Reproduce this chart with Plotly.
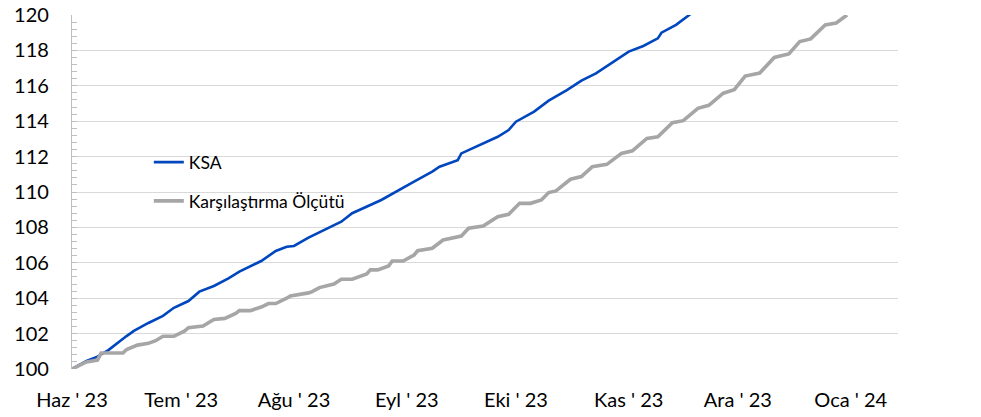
import plotly.graph_objects as go

# ---- data ----
ksa_dates = ["2023-06-01","2023-06-05","2023-06-08","2023-06-11","2023-06-16","2023-06-18",
             "2023-06-22","2023-06-26","2023-06-29","2023-07-03","2023-07-06","2023-07-10",
             "2023-07-14","2023-07-17","2023-07-23","2023-07-27","2023-07-30","2023-08-01",
             "2023-08-05","2023-08-14","2023-08-17","2023-08-25","2023-09-03","2023-09-08",
             "2023-09-10","2023-09-15","2023-09-16","2023-09-21","2023-09-26","2023-09-29",
             "2023-10-01","2023-10-06","2023-10-10","2023-10-15","2023-10-19","2023-10-23",
             "2023-10-28","2023-11-01","2023-11-05","2023-11-09","2023-11-10","2023-11-14",
             "2023-11-18"]
ksa_values = [100.0,100.45,100.7,101.07,101.86,102.15,
              102.6,103.0,103.46,103.84,104.37,104.69,
              105.12,105.5,106.1,106.67,106.91,106.95,
              107.42,108.32,108.8,109.55,110.58,111.15,
              111.43,111.8,112.18,112.66,113.12,113.5,
              113.97,114.54,115.16,115.76,116.29,116.7,
              117.36,117.93,118.25,118.68,119.0,119.44,
              120.06]

bench_dates = ["2023-06-01","2023-06-05","2023-06-08","2023-06-09","2023-06-15","2023-06-16",
               "2023-06-19","2023-06-22","2023-06-24","2023-06-26","2023-06-29","2023-07-02",
               "2023-07-03","2023-07-07","2023-07-10","2023-07-13","2023-07-16","2023-07-17",
               "2023-07-20","2023-07-23","2023-07-25","2023-07-27","2023-07-30","2023-07-31",
               "2023-08-05","2023-08-06","2023-08-08","2023-08-12","2023-08-14","2023-08-17",
               "2023-08-21","2023-08-22","2023-08-24","2023-08-27","2023-08-28","2023-08-31",
               "2023-09-03","2023-09-04","2023-09-08","2023-09-11","2023-09-16","2023-09-18",
               "2023-09-22","2023-09-26","2023-09-29","2023-10-02","2023-10-05","2023-10-08",
               "2023-10-10","2023-10-12","2023-10-16","2023-10-19","2023-10-22","2023-10-26",
               "2023-10-30","2023-11-02","2023-11-06","2023-11-09","2023-11-13","2023-11-16",
               "2023-11-20","2023-11-23","2023-11-27","2023-11-30","2023-12-03","2023-12-07",
               "2023-12-11","2023-12-15","2023-12-18","2023-12-21","2023-12-25","2023-12-28",
               "2023-12-31"]
bench_values = [100.0,100.4,100.5,100.9,100.9,101.1,
                101.35,101.45,101.6,101.85,101.85,102.15,
                102.33,102.43,102.8,102.86,103.14,103.3,
                103.3,103.5,103.7,103.7,104.0,104.12,
                104.3,104.37,104.6,104.8,105.07,105.07,
                105.37,105.6,105.6,105.82,106.1,106.1,
                106.44,106.68,106.82,107.29,107.51,107.95,
                108.08,108.6,108.74,109.36,109.36,109.55,
                109.97,110.06,110.72,110.87,111.43,111.56,
                112.18,112.33,113.03,113.12,113.92,114.03,
                114.73,114.9,115.58,115.78,116.55,116.72,
                117.6,117.8,118.5,118.65,119.44,119.55,
                120.0]

month_ticks = ["2023-06-01","2023-07-01","2023-08-01","2023-09-01","2023-10-01",
               "2023-11-01","2023-12-01","2024-01-01"]
month_labels = ["Haz ' 23","Tem ' 23","Ağu ' 23","Eyl ' 23","Eki ' 23",
                "Kas ' 23","Ara ' 23","Oca ' 24"]
y_ticks = [100,102,104,106,108,110,112,114,116,118,120]

FONT = "Lato"

fig = go.Figure()
fig.add_trace(go.Scatter(x=ksa_dates, y=ksa_values, mode="lines", name="KSA",
                         legendgroup="a",
                         line=dict(color="#0046BE", width=2.6)))
fig.add_trace(go.Scatter(x=bench_dates, y=bench_values, mode="lines",
                         name="Karşılaştırma Ölçütü", legendgroup="b",
                         line=dict(color="#A6A6A6", width=3.6)))

# white month separators cutting the gridlines (as in the reference)
for d in month_ticks[1:]:
    fig.add_shape(type="line", xref="x", yref="paper", x0=d, x1=d, y0=0, y1=1,
                  line=dict(color="white", width=2), layer="between")

fig.update_layout(
    width=981, height=417,
    margin=dict(l=72, r=83, t=15, b=48, autoexpand=False),
    paper_bgcolor="white", plot_bgcolor="white",
    font=dict(family=FONT, size=20, color="black"),
    showlegend=True,
    legend=dict(x=0.093, y=0.635, xanchor="left", yanchor="top",
                font=dict(family=FONT, size=17.5, color="black"),
                bgcolor="rgba(0,0,0,0)", traceorder="grouped",
                tracegroupgap=13),
)
fig.update_xaxes(
    type="date", range=["2023-06-01", "2024-01-14"], automargin=False,
    tickmode="array", tickvals=month_ticks, ticktext=month_labels,
    showgrid=False, showline=False, ticks="", zeroline=False,
    tickfont=dict(family=FONT, size=20, color="black"),
    ticklabelstandoff=17,
)
fig.update_yaxes(
    range=[100, 120], tickmode="array", tickvals=y_ticks, automargin=False,
    showgrid=True, gridcolor="#D9D9D9", gridwidth=1.3,
    showline=True, linecolor="#BFBFBF", linewidth=1.3,
    ticks="inside", ticklen=5, tickcolor="#BFBFBF", tickwidth=1,
    minor=dict(dtick=0.4, ticks="inside", ticklen=5, tickcolor="#BFBFBF",
               tickwidth=1, showgrid=False),
    zeroline=False,
    tickfont=dict(family=FONT, size=20, color="black"),
    ticklabelstandoff=18,
)

fig.write_html("out.html", config={"displayModeBar": False},
               post_script="document.body.style.margin='0';document.body.style.overflow='hidden';")
